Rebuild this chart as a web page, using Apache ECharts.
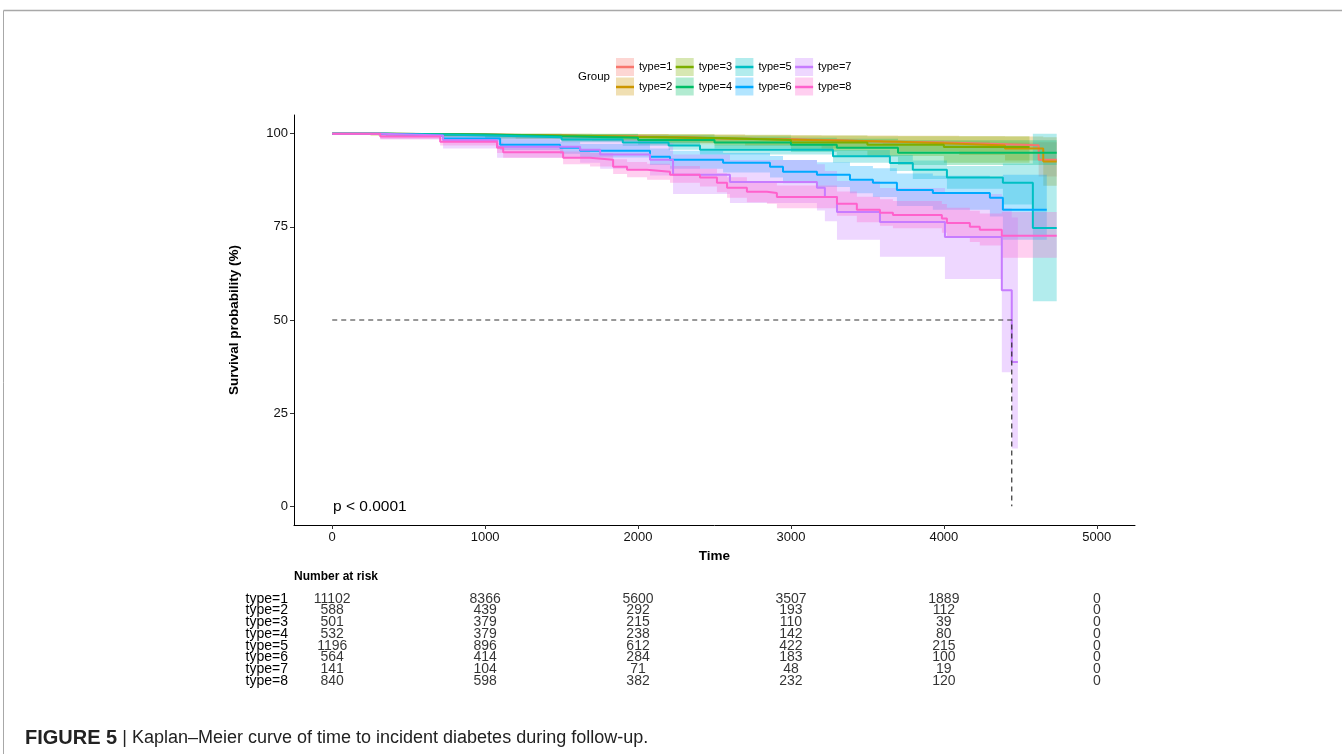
<!DOCTYPE html>
<html>
<head>
<meta charset="utf-8">
<script src="https://cdn.jsdelivr.net/npm/echarts@6/dist/echarts.min.js"></script>
<style>
  html, body { margin: 0; padding: 0; background: #fff; }
  #chart { width: 1342px; height: 754px; }
</style>
</head>
<body>
<div id="chart"></div>
<script>
// axis ticks
const xTicks = [0, 1000, 2000, 3000, 4000, 5000];
const yTicks = [0, 25, 50, 75, 100];

const groups = ["type=1", "type=2", "type=3", "type=4", "type=5", "type=6", "type=7", "type=8"];
const colors = ["#F8766D", "#CD9600", "#7CAE00", "#00BE67", "#00BFC4", "#00A9FF", "#C77CFF", "#FF61CC"];

// KM steps: [time, survival %, lower %, upper %]; last row = end of follow-up
const type1 = [
  [0, 100, 100, 100], [300, 99.9, 99.8, 100], [600, 99.8, 99.7, 99.9], [1000, 99.6, 99.5, 99.7],
  [1300, 99.4, 99.2, 99.5], [1600, 99.2, 99.0, 99.4], [2000, 99.0, 98.8, 99.2], [2300, 98.7, 98.4, 98.9],
  [2600, 98.5, 98.2, 98.8], [3000, 98.2, 97.8, 98.5], [3300, 97.9, 97.5, 98.3], [3600, 97.6, 97.1, 98.1],
  [4000, 97.3, 96.7, 97.9], [4300, 96.9, 96.1, 97.6], [4620, 93.0, 88.5, 97.7], [4738, 93.0, 88.5, 97.7]
];
const type2 = [
  [0, 100, 100, 100], [250, 99.8, 99.4, 100], [700, 99.6, 99.1, 100], [1200, 99.3, 98.6, 100],
  [1700, 99.0, 98.1, 99.9], [2200, 98.6, 97.4, 99.8], [2700, 98.2, 96.8, 99.6], [3200, 97.8, 96.0, 99.5],
  [3700, 97.3, 95.2, 99.4], [4100, 96.8, 94.3, 99.3], [4400, 96.0, 92.8, 99.2], [4650, 92.5, 86.0, 99.0],
  [4738, 92.5, 86.0, 99.0]
];
const type3 = [
  [0, 100, 100, 100], [400, 99.8, 99.4, 100], [1000, 99.5, 98.9, 100], [1500, 99.1, 98.2, 100],
  [2000, 98.8, 97.6, 99.9], [2500, 98.3, 96.8, 99.7], [3000, 97.6, 95.4, 99.5], [3500, 97.0, 94.0, 99.3],
  [4000, 96.4, 92.2, 99.3], [4560, 96.4, 92.2, 99.3]
];
const type4 = [
  [0, 100, 100, 100], [350, 99.8, 99.4, 100], [1000, 99.3, 98.6, 100], [1500, 98.9, 97.9, 99.9],
  [2000, 98.3, 97.0, 99.6], [2500, 97.6, 96.0, 99.2], [3000, 97.0, 95.1, 98.9], [3300, 96.2, 93.8, 98.6],
  [3700, 94.9, 91.6, 98.2], [4738, 94.9, 91.6, 98.2]
];
const type5 = [
  [0, 100, 100, 100], [300, 99.8, 99.5, 100], [700, 99.4, 99.0, 99.8], [1100, 99.0, 98.4, 99.6],
  [1500, 98.4, 97.7, 99.1], [1900, 97.6, 96.7, 98.5], [2200, 96.8, 95.7, 97.9], [2405, 95.7, 94.4, 97.0],
  [3275, 93.9, 92.2, 95.6], [3647, 92.1, 90.0, 94.3], [3797, 90.3, 87.8, 92.8], [4020, 88.2, 85.2, 91.3],
  [4386, 86.8, 81.0, 92.0], [4582, 74.7, 55.0, 100], [4738, 74.7, 55.0, 100]
];
const type6 = [
  [0, 100, 100, 100], [350, 99.6, 99.1, 100], [725, 98.7, 97.8, 99.6], [1098, 97.0, 95.6, 98.4],
  [1490, 96.2, 94.6, 97.8], [1621, 95.4, 93.6, 97.2], [2078, 93.8, 91.6, 96.0], [2209, 93.0, 90.6, 95.4],
  [2556, 92.2, 89.6, 94.8], [2863, 91.1, 88.2, 94.0], [2948, 89.8, 86.7, 92.9], [3170, 89.0, 85.7, 92.3],
  [3386, 87.6, 84.0, 91.3], [3536, 86.8, 83.0, 90.7], [3693, 84.9, 80.6, 89.3], [3928, 84.1, 79.6, 88.7],
  [4301, 82.8, 77.8, 88.0], [4386, 79.6, 71.5, 89.0], [4673, 79.6, 71.5, 89.0]
];
const type7 = [
  [0, 100, 100, 100], [314, 99.5, 98.5, 100], [725, 98.2, 96.0, 100], [1078, 96.5, 93.5, 99.5],
  [1621, 95.7, 92.2, 99.2], [1752, 94.4, 90.6, 98.4], [2078, 93.0, 88.8, 97.4], [2229, 89.0, 83.8, 94.4],
  [2601, 87.0, 81.4, 92.9], [3170, 85.5, 79.4, 91.8], [3222, 83.0, 76.5, 90.0], [3301, 79.0, 71.5, 87.3],
  [3582, 76.3, 67.0, 85.4], [4007, 72.3, 61.0, 83.8], [4379, 58.0, 36.0, 80.0], [4444, 38.7, 15.5, 77.5],
  [4484, 38.7, 15.5, 77.5]
];
const type8 = [
  [0, 100, 100, 100], [314, 99.2, 98.5, 100], [706, 97.8, 96.8, 98.8], [1078, 96.2, 94.8, 97.6],
  [1118, 95.0, 93.5, 96.5], [1510, 93.5, 91.8, 95.2], [1686, 93.0, 91.2, 94.8], [1837, 91.1, 89.2, 93.1],
  [1928, 90.3, 88.3, 92.4], [2059, 89.8, 87.6, 91.9], [2209, 89.0, 86.8, 91.3], [2405, 88.2, 85.8, 90.6],
  [2516, 86.8, 84.3, 89.4], [2582, 85.5, 82.8, 88.3], [2712, 84.4, 81.6, 87.3], [2843, 84.1, 81.2, 87.1],
  [2908, 83.0, 80.0, 86.1], [3301, 81.2, 78.0, 84.5], [3431, 79.6, 76.2, 83.1], [3582, 78.8, 75.3, 82.4],
  [3667, 78.2, 74.6, 81.9], [3987, 77.2, 73.4, 81.1], [4020, 76.0, 72.0, 80.1], [4170, 75.0, 70.9, 79.3],
  [4235, 74.2, 70.0, 78.6], [4379, 72.6, 66.7, 79.0], [4738, 72.6, 66.7, 79.0]
];
const curves = [type1, type2, type3, type4, type5, type6, type7, type8];

const medianTime = 4444;
const pValueText = "p < 0.0001";

// number at risk
const riskTimes = [0, 1000, 2000, 3000, 4000, 5000];
const risk1 = [11102, 8366, 5600, 3507, 1889, 0];
const risk2 = [588, 439, 292, 193, 112, 0];
const risk3 = [501, 379, 215, 110, 39, 0];
const risk4 = [532, 379, 238, 142, 80, 0];
const risk5 = [1196, 896, 612, 422, 215, 0];
const risk6 = [564, 414, 284, 183, 100, 0];
const risk7 = [141, 104, 71, 48, 19, 0];
const risk8 = [840, 598, 382, 232, 120, 0];
const riskRows = [risk1, risk2, risk3, risk4, risk5, risk6, risk7, risk8];

const FONT = "Liberation Sans, Arial, sans-serif";
const chart = echarts.init(document.getElementById("chart"), null, { renderer: "canvas" });

function bandRenderer(rows, color) {
  const fill = echarts.color.modifyAlpha(color, 0.3);
  return function (params, api) {
    if (params.dataIndex !== 0) return null;
    const pts = [];
    for (let i = 0; i < rows.length - 1; i++) {
      pts.push(api.coord([rows[i][0], rows[i][3]]));
      pts.push(api.coord([rows[i + 1][0], rows[i][3]]));
    }
    for (let i = rows.length - 2; i >= 0; i--) {
      pts.push(api.coord([rows[i + 1][0], rows[i][2]]));
      pts.push(api.coord([rows[i][0], rows[i][2]]));
    }
    return { type: "polygon", shape: { points: pts }, style: { fill: fill } };
  };
}

const series = [];
curves.forEach((rows, i) => {
  series.push({
    name: "band " + groups[i],
    type: "custom",
    xAxisIndex: 0,
    yAxisIndex: 0,
    renderItem: bandRenderer(rows, colors[i]),
    data: rows,
    encode: { x: 0, y: [2, 3] },
    silent: true,
    z: 1,
  });
});
curves.forEach((rows, i) => {
  series.push({
    name: groups[i],
    type: "line",
    xAxisIndex: 0,
    yAxisIndex: 0,
    step: "end",
    symbol: "none",
    data: rows.map((r) => [r[0], r[1]]),
    itemStyle: { color: colors[i] },
    lineStyle: { color: colors[i], width: 2 },
    silent: true,
    z: 3,
  });
});
// median survival guide
series.push({
  name: "median",
  type: "line",
  xAxisIndex: 0,
  yAxisIndex: 0,
  symbol: "none",
  data: [[0, 50], [medianTime, 50], [medianTime, 0]],
  lineStyle: { color: "#333", width: 1.2, type: [5, 4] },
  silent: true,
  z: 4,
});
// risk table
series.push({
  name: "risk",
  type: "scatter",
  xAxisIndex: 1,
  yAxisIndex: 1,
  symbolSize: 1,
  itemStyle: { color: "transparent" },
  data: riskRows.flatMap((row, g) => row.map((v, k) => [riskTimes[k], groups[g], v])),
  label: {
    show: true,
    position: "inside",
    formatter: (p) => String(p.value[2]),
    color: "#000",
    fontSize: 14,
    fontFamily: FONT,
  },
  silent: true,
});

const legends = [];
const legendBoxes = [];
for (let c = 0; c < 4; c++) {
  const x = 616 + c * 59.7;
  legends.push({
    left: x,
    top: 60,
    padding: 0,
    orient: "vertical",
    icon: "rect",
    itemWidth: 18,
    itemHeight: 2.5,
    itemGap: 6,
    itemTextGap: 4,
    selectedMode: false,
    data: [groups[2 * c], groups[2 * c + 1]],
    textStyle: { fontSize: 11, color: "#000", fontFamily: FONT, lineHeight: 14 },
    z: 10,
  });
  for (let r = 0; r < 2; r++) {
    legendBoxes.push({
      type: "rect",
      shape: { x: x, y: 58 + r * 19.5, width: 18, height: 18 },
      style: { fill: echarts.color.modifyAlpha(colors[2 * c + r], 0.3) },
      z: 0,
    });
  }
}

chart.setOption({
  animation: false,
  backgroundColor: "#fff",
  textStyle: { fontFamily: FONT },
  legend: legends,
  grid: [
    { left: 294, right: 207, top: 115, bottom: 229 },
    { left: 294, right: 207, top: 593, height: 94 },
  ],
  xAxis: [
    {
      gridIndex: 0,
      type: "value",
      min: -250,
      max: 5250,
      name: "Time",
      nameLocation: "middle",
      nameGap: 22,
      nameTextStyle: { fontSize: 13.5, fontWeight: "bold", color: "#000", fontFamily: FONT },
      axisLine: { show: true, onZero: false, lineStyle: { color: "#000", width: 1 } },
      axisTick: { show: true, length: 4, customValues: xTicks, lineStyle: { color: "#333" } },
      axisLabel: { customValues: xTicks, formatter: (v) => String(v), margin: 6, fontSize: 13, color: "#111", fontFamily: FONT },
      splitLine: { show: false },
    },
    {
      gridIndex: 1,
      type: "value",
      min: -250,
      max: 5250,
      show: false,
    },
  ],
  yAxis: [
    {
      gridIndex: 0,
      type: "value",
      min: -5,
      max: 105,
      name: "Survival probability (%)",
      nameLocation: "middle",
      nameGap: 53,
      nameTextStyle: { fontSize: 13.5, fontWeight: "bold", color: "#000", fontFamily: FONT },
      axisLine: { show: true, onZero: false, lineStyle: { color: "#000", width: 1 } },
      axisTick: { show: true, length: 4, customValues: yTicks, lineStyle: { color: "#333" } },
      axisLabel: { customValues: yTicks, formatter: (v) => String(v), margin: 6, fontSize: 13, color: "#111", fontFamily: FONT },
      splitLine: { show: false },
    },
    {
      gridIndex: 1,
      type: "category",
      data: groups,
      inverse: true,
      axisLine: { show: false },
      axisTick: { show: false },
      axisLabel: { interval: 0, margin: 6, fontSize: 14, color: "#000", fontFamily: FONT },
      splitLine: { show: false },
    },
  ],
  graphic: [
    { type: "line", shape: { x1: 3.5, y1: 10.5, x2: 1342, y2: 10.5 }, style: { stroke: "#a8a8a8", lineWidth: 1.5 } },
    { type: "line", shape: { x1: 3.5, y1: 10.5, x2: 3.5, y2: 754 }, style: { stroke: "#a8a8a8", lineWidth: 1 } },
    ...legendBoxes,
    {
      type: "text", x: 578, y: 77,
      style: { text: "Group", fontSize: 11.5, fill: "#000", fontFamily: FONT, verticalAlign: "middle" },
    },
    {
      type: "text", x: 333, y: 507, z: 10,
      style: { text: pValueText, fontSize: 15.5, fill: "#000", fontFamily: FONT, verticalAlign: "middle" },
    },
    {
      type: "text", x: 294, y: 577,
      style: { text: "Number at risk", fontSize: 12, fontWeight: "bold", fill: "#000", fontFamily: FONT, verticalAlign: "middle" },
    },
    {
      type: "text", x: 25, y: 738,
      style: {
        text: "{b|FIGURE 5} | Kaplan\u2013Meier curve of time to incident diabetes during follow-up.",
        fontSize: 18, fill: "#222", fontFamily: FONT, verticalAlign: "middle",
        rich: { b: { fontWeight: "bold", fontSize: 20, fill: "#222", fontFamily: FONT } },
      },
    },
  ],
  series: series,
});
</script>
</body>
</html>
